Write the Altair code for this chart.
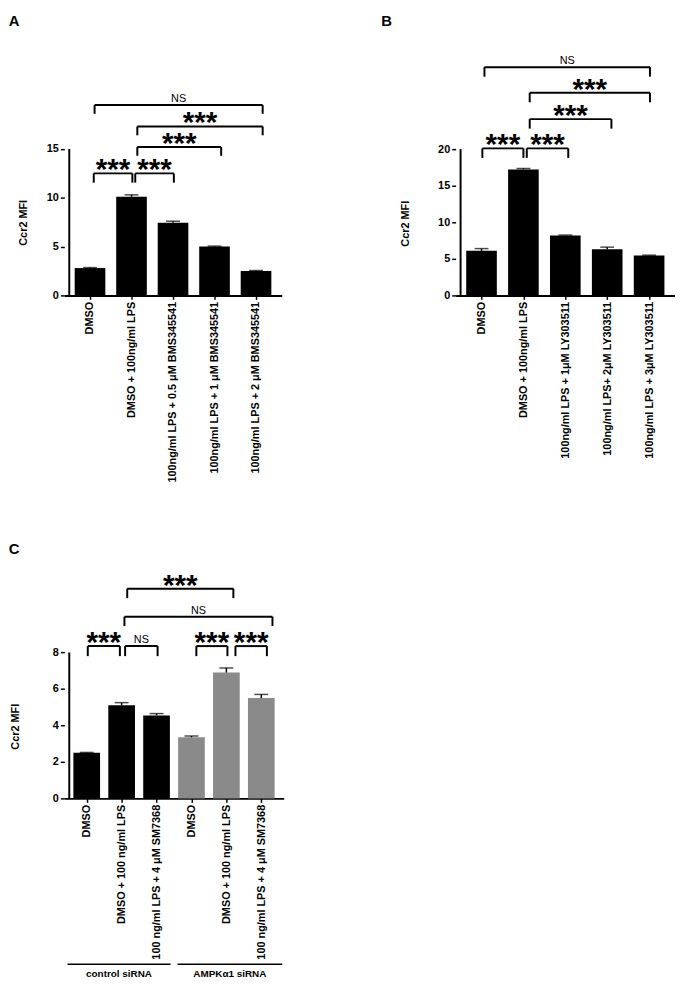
import json
import altair as alt
import pandas as pd

FONT = "Liberation Sans"

# ---------------- Panel A ----------------
a_labels = ["DMSO", "DMSO + 100ng/ml LPS", "100ng/ml LPS + 0.5 μM BMS345541",
            "100ng/ml LPS + 1 μM BMS345541", "100ng/ml LPS + 2 μM BMS345541"]
a_values = [2.8, 10.1, 7.45, 5.0, 2.5]
a_err = [2.85, 10.3, 7.6, 5.05, 2.55]
a_group = ["black"] * 5
a_br_x1 = [0.09, 1.09, 1.14, 1.14, 0.11]
a_br_x2 = [1.02, 2.02, 3.16, 4.16, 4.16]
a_br_y = [12.5, 12.5, 15.2, 17.3, 19.5]
a_br_leg = [11.55, 11.55, 14.3, 16.4, 18.6]
a_br_text = ["***", "***", "***", "***", "NS"]
a_ticks = [0, 5, 10, 15]

# ---------------- Panel B ----------------
b_labels = ["DMSO", "DMSO + 100ng/ml LPS", "100ng/ml LPS + 1μM LY303511",
            "100ng/ml LPS+ 2μM LY303511", "100ng/ml LPS + 3μM LY303511"]
b_values = [6.1, 17.2, 8.2, 6.3, 5.45]
b_err = [6.4, 17.35, 8.25, 6.6, 5.5]
b_group = ["black"] * 5
b_br_x1 = [0.02, 1.08, 1.15, 1.15, 0.07]
b_br_x2 = [1.0, 2.07, 3.1, 4.02, 4.02]
b_br_y = [20.1, 20.1, 24.1, 27.7, 31.2]
b_br_leg = [18.8, 18.8, 22.8, 26.4, 29.9]
b_br_text = ["***", "***", "***", "***", "NS"]
b_ticks = [0, 5, 10, 15, 20]

# ---------------- Panel C ----------------
c_labels = ["DMSO", "DMSO + 100 ng/ml LPS", "100 ng/ml LPS + 4 μM SM7368",
            "DMSO", "DMSO + 100 ng/ml LPS", "100 ng/ml LPS + 4 μM SM7368"]
c_values = [2.5, 5.1, 4.55, 3.35, 6.9, 5.5]
c_err = [2.52, 5.25, 4.65, 3.42, 7.15, 5.7]
c_group = ["black", "black", "black", "gray", "gray", "gray"]
c_br_x1 = [0.03, 1.1, 3.14, 4.26, 1.08, 1.16]
c_br_x2 = [0.95, 2.03, 4.03, 5.16, 5.32, 4.2]
c_br_y = [8.35, 8.35, 8.35, 8.35, 9.96, 11.5]
c_br_leg = [7.8, 7.8, 7.8, 7.8, 9.45, 10.98]
c_br_text = ["***", "NS", "***", "***", "NS", "***"]
c_ticks = [0, 2, 4, 6, 8]
c_grp_names = ["control siRNA", "AMPKα1 siRNA"]
c_grp_start = [-0.55, 2.6]
c_grp_end = [2.4, 5.6]
c_grp_y = -9.1


def panel(letter, labels, values, err, group, bx1, bx2, by, bleg, btxt, ticks,
          ymax, width, height, bar_size, title_y, title_pad, letter_dx,
          letter_offset):
    n = len(labels)
    bars = pd.DataFrame({"i": list(range(n)), "v": values, "e": err, "g": group})
    br = pd.DataFrame({"x1": bx1, "x2": bx2, "y": by, "leg": bleg, "t": btxt})
    xs = alt.Scale(domain=[-0.5, n - 0.5], nice=False, zero=False)
    ys = alt.Scale(domain=[0, ymax], nice=False)
    expr = json.dumps(labels) + "[datum.value]"
    xaxis = alt.Axis(values=list(range(n)), labelExpr=expr, labelAngle=270,
                     title=None, grid=False, domainColor="black", domainWidth=2,
                     tickColor="black", tickWidth=1.5, tickSize=4,
                     labelFont=FONT, labelFontWeight="bold", labelFontSize=11,
                     labelColor="black", labelPadding=2, labelLimit=400)
    yaxis = alt.Axis(values=ticks, title="Ccr2  MFI", grid=False, domain=False,
                     tickColor="black", tickWidth=1.5, tickSize=4,
                     labelFont=FONT, labelFontWeight="bold", labelFontSize=11,
                     labelColor="black", labelPadding=2, titleFont=FONT,
                     titleFontWeight="bold", titleFontSize=11, titleColor="black",
                     titleY=title_y, titlePadding=title_pad)
    base = alt.Chart(bars)
    bar = base.mark_bar(size=bar_size).encode(
        x=alt.X("i:Q", scale=xs, axis=xaxis),
        y=alt.Y("v:Q", scale=ys, axis=yaxis),
        color=alt.Color("g:N", scale=alt.Scale(domain=["black", "gray"],
                                                range=["#000000", "#8a8a8a"]),
                        legend=None),
    )
    ebar = base.mark_rule(color="black", strokeWidth=1.5).encode(
        x="i:Q", y="v:Q", y2="e:Q")
    ecap = base.mark_tick(color="black", orient="horizontal", size=14,
                          thickness=1.5).encode(x="i:Q", y="e:Q")
    yline = alt.Chart(pd.DataFrame({"x": [-0.5], "y0": [0], "y1": [max(ticks)]})) \
        .mark_rule(color="black", strokeWidth=2).encode(x="x:Q", y="y0:Q", y2="y1:Q")
    bb = alt.Chart(br)
    hline = bb.mark_rule(color="black", strokeWidth=2).encode(
        x="x1:Q", x2="x2:Q", y="y:Q")
    leg1 = bb.mark_rule(color="black", strokeWidth=2).encode(
        x="x1:Q", y="y:Q", y2="leg:Q")
    leg2 = bb.mark_rule(color="black", strokeWidth=2).encode(
        x="x2:Q", y="y:Q", y2="leg:Q")
    stars = bb.transform_filter("datum.t == '***'").transform_calculate(
        xm="(datum.x1 + datum.x2) / 2").mark_text(
        font=FONT, fontWeight="bold", fontSize=30, dy=6, baseline="alphabetic",
        color="black").encode(x="xm:Q", y="y:Q", text="t:N")
    ns = bb.transform_filter("datum.t == 'NS'").transform_calculate(
        xm="(datum.x1 + datum.x2) / 2").mark_text(
        font=FONT, fontSize=11, dy=-3, baseline="alphabetic",
        color="black").encode(x="xm:Q", y="y:Q", text="t:N")
    layers = [bar, ebar, ecap, yline, hline, leg1, leg2, stars, ns]
    return layers, dict(width=width, height=height,
                        title=alt.TitleParams(letter, anchor="start", frame="bounds",
                                              font=FONT, fontSize=15,
                                              fontWeight="bold", color="black",
                                              dx=letter_dx, offset=letter_offset))


la, pa = panel("A", a_labels, a_values, a_err, a_group, a_br_x1, a_br_x2, a_br_y,
               a_br_leg, a_br_text, a_ticks, 25.1, 220, 248, 31, 174, 18, -9, 22)
lb, pb = panel("B", b_labels, b_values, b_err, b_group, b_br_x1, b_br_x2, b_br_y,
               b_br_leg, b_br_text, b_ticks, 33.5, 222, 248, 31, 175, 27, -19, 22)
lc, pc = panel("C", c_labels, c_values, c_err, c_group, c_br_x1, c_br_x2, c_br_y,
               c_br_leg, c_br_text, c_ticks, 12.3, 222, 227, 27, 154, 32, -1, 14)

grp = pd.DataFrame({"name": c_grp_names, "s": c_grp_start, "e": c_grp_end,
                    "y": [c_grp_y] * 2})
gline = alt.Chart(grp).mark_rule(color="black", strokeWidth=1.5).encode(
    x="s:Q", x2="e:Q", y="y:Q")
gtext = alt.Chart(grp).transform_calculate(xm="(datum.s + datum.e) / 2").mark_text(
    font=FONT, fontWeight="bold", fontSize=10, baseline="top", dy=5,
    color="black").encode(x="xm:Q", y="y:Q", text="name:N")
lc = lc + [gline, gtext]

chart_a = alt.layer(*la).properties(**pa)
chart_b = alt.layer(*lb).properties(**pb)
chart_c = alt.layer(*lc).properties(**pc)

chart = alt.vconcat(
    alt.hconcat(chart_a, chart_b, spacing=100),
    chart_c,
    spacing=59,
).properties(padding={"left": 0, "top": 0, "right": 0, "bottom": 0},
             background="white") \
 .configure_view(stroke=None, strokeWidth=0)

chart.save("out.html", embed_options={"renderer": "svg", "actions": False})
